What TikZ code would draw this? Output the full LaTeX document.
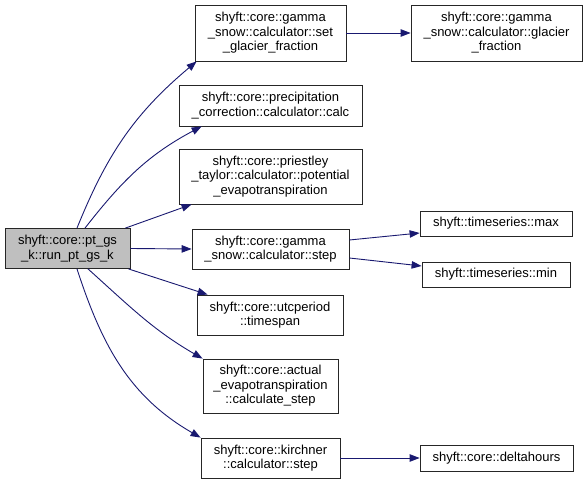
\documentclass[tikz,border=0pt]{standalone}
\usepackage{fontspec}
\setmainfont{Liberation Sans}
\usetikzlibrary{arrows.meta}
\definecolor{edgec}{HTML}{191970}
\definecolor{mainfill}{HTML}{BFBFBF}
\begin{document}
\begin{tikzpicture}[x=1pt,y=1pt,
  fn/.style={draw=black!85, line width=0.8pt, rectangle, inner sep=0pt, align=center,
    font=\fontsize{13}{14.5}\selectfont},
  ed/.style={draw=edgec, line width=0.9pt, -{Triangle[length=10pt,width=7.5pt]}}]
\useasboundingbox (0,0) rectangle (587,-484);
\node[fn, fill=mainfill, minimum width=125pt, minimum height=40pt] (main) at (67.5,-248.5) {shyft::core::pt\_gs\\\_k::run\_pt\_gs\_k};
\node[fn, minimum width=151pt, minimum height=56pt] (A) at (270.5,-33) {shyft::core::gamma\\\_snow::calculator::set\\\_glacier\_fraction};
\node[fn, minimum width=183pt, minimum height=41pt] (B) at (270.5,-105.5) {shyft::core::precipitation\\\_correction::calculator::calc};
\node[fn, minimum width=183pt, minimum height=55pt] (C) at (270.5,-176.5) {shyft::core::priestley\\\_taylor::calculator::potential\\\_evapotranspiration};
\node[fn, minimum width=157pt, minimum height=40pt] (D) at (270.5,-249) {shyft::core::gamma\\\_snow::calculator::step};
\node[fn, minimum width=146pt, minimum height=40pt] (E) at (270,-315) {shyft::core::utcperiod\\::timespan};
\node[fn, minimum width=135pt, minimum height=54pt] (F) at (270.5,-386) {shyft::core::actual\\\_evapotranspiration\\::calculate\_step};
\node[fn, minimum width=139pt, minimum height=40pt] (G) at (270.5,-458) {shyft::core::kirchner\\::calculator::step};
\node[fn, minimum width=171pt, minimum height=56pt] (H) at (496.5,-33) {shyft::core::gamma\\\_snow::calculator::glacier\\\_fraction};
\node[fn, minimum width=152pt, minimum height=25pt] (I) at (496,-223.5) {shyft::timeseries::max};
\node[fn, minimum width=148pt, minimum height=25pt] (J) at (496,-274.5) {shyft::timeseries::min};
\node[fn, minimum width=153pt, minimum height=26pt] (K) at (496.5,-458) {shyft::core::deltahours};
\draw[ed] ([xshift=9.5pt]main.north) to[out=68,in=220] ([xshift=2pt]A.south west);
\draw[ed] ([xshift=17.5pt]main.north) to[out=52,in=208] ([xshift=23pt]B.south west);
\draw[ed] ([xshift=-5pt]main.north east) -- ([xshift=13pt]C.south west);
\draw[ed] (main.east) -- (D.west);
\draw[ed] ([xshift=-2pt]main.south east) -- ([xshift=11pt]E.north west);
\draw[ed] ([xshift=20.5pt]main.south) to[out=-42,in=150] (F.north west);
\draw[ed] ([xshift=9.5pt]main.south) to[out=-72,in=150] (G.north west);
\draw[ed] (A.east) -- (H.west);
\draw[ed] ([yshift=9pt]D.east) -- ([yshift=-9.5pt]I.west);
\draw[ed] ([yshift=-9pt]D.east) -- ([yshift=8.5pt]J.west);
\draw[ed] (G.east) -- (K.west);
\end{tikzpicture}
\end{document}
